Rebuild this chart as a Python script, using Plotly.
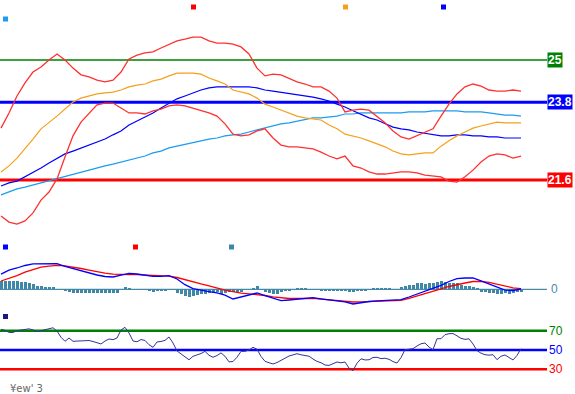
import plotly.graph_objects as go

# ---------------- data ----------------
# price panel lines, one value every 2 sessions
upper = [23.07, 23.50, 23.98, 24.35, 24.66, 24.80, 25.00, 25.17, 25.00, 24.77,
         24.58, 24.52, 24.43, 24.38, 24.43, 24.66, 25.03, 25.14, 25.20, 25.23,
         25.34, 25.45, 25.54, 25.59, 25.65, 25.65, 25.54, 25.48, 25.48, 25.45,
         25.37, 25.17, 24.77, 24.55, 24.60, 24.58, 24.49, 24.38, 24.32, 24.24,
         24.24, 24.12, 23.92, 23.53, 23.58, 23.61, 23.58, 23.41, 23.22, 22.99,
         22.82, 22.76, 22.85, 22.96, 23.05, 23.41, 23.75, 24.04, 24.24, 24.32,
         24.26, 24.15, 24.12, 24.12, 24.15, 24.12]
middle = [21.83, 22.00, 22.22, 22.48, 22.76, 23.05, 23.22, 23.41, 23.61, 23.81,
          23.92, 23.98, 24.04, 24.07, 24.09, 24.15, 24.24, 24.29, 24.32, 24.41,
          24.46, 24.55, 24.63, 24.63, 24.63, 24.60, 24.49, 24.41, 24.32, 24.15,
          24.09, 24.04, 23.92, 23.75, 23.67, 23.58, 23.50, 23.41, 23.36, 23.33,
          23.30, 23.16, 23.05, 22.90, 22.85, 22.79, 22.71, 22.62, 22.54, 22.42,
          22.34, 22.31, 22.34, 22.37, 22.37, 22.56, 22.71, 22.85, 22.96, 23.07,
          23.13, 23.19, 23.24, 23.22, 23.22, 23.22]
lower = [20.58, 20.41, 20.35, 20.44, 20.67, 21.03, 21.26, 21.63, 22.25, 22.85,
         23.24, 23.50, 23.73, 23.78, 23.78, 23.64, 23.50, 23.50, 23.47, 23.56,
         23.61, 23.70, 23.73, 23.70, 23.64, 23.58, 23.50, 23.41, 23.19, 22.90,
         22.85, 22.88, 22.99, 23.05, 22.79, 22.59, 22.54, 22.54, 22.51, 22.48,
         22.39, 22.28, 22.20, 22.28, 22.00, 21.94, 21.83, 21.77, 21.77, 21.80,
         21.83, 21.83, 21.80, 21.74, 21.71, 21.69, 21.57, 21.54, 21.69, 21.88,
         22.11, 22.28, 22.34, 22.31, 22.22, 22.28]
ma_mid = [21.43, 21.52, 21.57, 21.69, 21.83, 21.94, 22.08, 22.22, 22.34, 22.42,
          22.51, 22.59, 22.68, 22.76, 22.88, 22.99, 23.16, 23.27, 23.39, 23.50,
          23.64, 23.78, 23.90, 23.98, 24.07, 24.15, 24.21, 24.24, 24.24, 24.24,
          24.24, 24.24, 24.21, 24.15, 24.12, 24.09, 24.04, 24.01, 23.98, 23.95,
          23.90, 23.84, 23.75, 23.67, 23.56, 23.47, 23.36, 23.30, 23.19, 23.10,
          23.05, 23.02, 22.96, 22.93, 22.88, 22.85, 22.85, 22.88, 22.88, 22.85,
          22.85, 22.82, 22.82, 22.79, 22.79, 22.79]
ma_long = [21.18, 21.26, 21.35, 21.40, 21.46, 21.52, 21.60, 21.66, 21.71, 21.77,
           21.83, 21.88, 21.94, 22.00, 22.05, 22.11, 22.17, 22.22, 22.28, 22.37,
           22.42, 22.51, 22.56, 22.62, 22.65, 22.71, 22.76, 22.79, 22.85, 22.88,
           22.90, 22.96, 23.02, 23.07, 23.13, 23.19, 23.22, 23.27, 23.33, 23.36,
           23.36, 23.39, 23.41, 23.47, 23.47, 23.50, 23.50, 23.50, 23.50, 23.50,
           23.50, 23.53, 23.53, 23.53, 23.56, 23.56, 23.56, 23.56, 23.53, 23.53,
           23.53, 23.50, 23.47, 23.44, 23.44, 23.41]

# MACD panel, lines one value every 2 sessions, histogram every session
macd = [0.152, 0.191, 0.213, 0.238, 0.254, 0.256, 0.256, 0.256, 0.230, 0.208,
        0.187, 0.164, 0.143, 0.128, 0.123, 0.141, 0.160, 0.153, 0.139, 0.130,
        0.130, 0.137, 0.103, 0.046, 0.007, -0.012, -0.024, -0.036, -0.058, -0.097,
        -0.078, -0.060, -0.037, -0.063, -0.090, -0.113, -0.107, -0.098, -0.087, -0.084,
        -0.095, -0.106, -0.114, -0.125, -0.147, -0.131, -0.122, -0.116, -0.112, -0.109,
        -0.104, -0.077, -0.049, -0.022, 0.009, 0.040, 0.078, 0.106, 0.113, 0.113,
        0.084, 0.054, 0.017, -0.009, -0.012, 0.003]
signal = [0.083, 0.108, 0.137, 0.171, 0.199, 0.221, 0.231, 0.240, 0.234, 0.223,
          0.208, 0.192, 0.175, 0.161, 0.151, 0.146, 0.146, 0.146, 0.144, 0.141,
          0.137, 0.132, 0.118, 0.095, 0.073, 0.054, 0.035, 0.012, -0.008, -0.023,
          -0.038, -0.045, -0.051, -0.062, -0.075, -0.087, -0.092, -0.092, -0.089, -0.090,
          -0.098, -0.106, -0.114, -0.122, -0.127, -0.125, -0.122, -0.120, -0.118, -0.116,
          -0.111, -0.090, -0.068, -0.044, -0.020, 0.004, 0.028, 0.049, 0.063, 0.078,
          0.080, 0.069, 0.050, 0.032, 0.015, 0.006]
hist = [0.080, 0.085, 0.080, 0.080, 0.080, 0.077, 0.070, 0.063, 0.055, 0.035,
        0.030, 0.025, 0.022, 0.022, 0.003, -0.003, -0.012, -0.023, -0.033, -0.033,
        -0.033, -0.033, -0.040, -0.040, -0.040, -0.040, -0.033, -0.033, -0.033, -0.033,
        0.002, 0.023, 0.013, 0.002, -0.002, -0.003, -0.005, -0.013, -0.023, -0.013,
        -0.013, -0.013, -0.003, -0.005, -0.037, -0.050, -0.070, -0.080, -0.070, -0.055,
        -0.044, -0.044, -0.037, -0.037, -0.029, -0.044, -0.037, -0.029, -0.029, -0.029,
        -0.022, -0.003, 0.003, 0.015, 0.030, -0.003, -0.025, -0.033, -0.043, -0.043,
        -0.030, -0.020, -0.010, -0.003, 0.013, 0.013, 0.013, 0.003, -0.003, -0.003,
        -0.015, -0.015, -0.015, -0.010, -0.010, -0.010, -0.013, -0.023, -0.023, -0.015,
        -0.013, -0.008, 0.003, 0.013, 0.013, 0.013, 0.013, 0.013, 0.003, 0.003,
        0.022, 0.037, 0.048, 0.048, 0.059, 0.059, 0.055, 0.066, 0.066, 0.077,
        0.084, 0.077, 0.066, 0.066, 0.059, 0.048, 0.037, 0.029, 0.022, 0.015,
        -0.022, -0.026, -0.033, -0.037, -0.044, -0.044, -0.037, -0.044, -0.037, -0.030,
        -0.025]

# RSI, one value per session
rsi = [71.5, 70.6, 68.4, 68.3, 70.2, 71.0, 71.6, 72.1, 71.0, 69.2,
       70.2, 71.3, 72.1, 73.2, 69.8, 63.3, 59.1, 62.5, 59.1, 59.4,
       59.8, 60.2, 59.9, 58.9, 57.3, 56.3, 59.4, 61.5, 60.8, 62.5,
       70.9, 73.7, 67.8, 59.4, 58.6, 60.9, 60.0, 55.5, 52.8, 58.4,
       58.9, 60.1, 63.6, 57.3, 49.0, 46.2, 43.0, 39.8, 43.4, 44.8,
       46.3, 48.6, 44.5, 42.4, 44.2, 47.0, 43.4, 37.6, 38.0, 42.4,
       48.6, 48.6, 50.0, 52.8, 50.8, 43.3, 38.2, 36.7, 35.4, 36.9,
       38.8, 41.4, 43.7, 44.9, 46.1, 45.0, 44.2, 43.5, 40.6, 38.1,
       36.7, 34.3, 33.9, 35.8, 37.5, 36.6, 37.5, 31.1, 28.4, 36.2,
       40.8, 39.6, 39.8, 42.2, 42.4, 41.0, 41.4, 40.3, 37.9, 36.4,
       42.0, 50.3, 50.8, 51.4, 54.2, 56.5, 57.3, 53.1, 50.3, 61.8,
       61.8, 66.0, 67.0, 67.2, 64.8, 62.2, 61.1, 61.7, 56.3, 49.3,
       46.7, 45.1, 44.6, 45.1, 39.9, 43.5, 44.8, 42.6, 39.6, 44.3,
       51.4]

price_levels = [25, 23.8, 21.6]
price_level_labels = ["25", "23.8", "21.6"]
price_level_colors = ["#008000", "#0000ff", "#ff0000"]
rsi_levels = [70, 50, 30]
rsi_level_colors = ["#008000", "#0000ff", "#ff0000"]
footer_text = "¥ew' 3"

# ---------------- layout geometry ----------------
W, H = 575, 394
PW = 547          # plot area width in px
STEP = 4.0        # px per session


def dom(top_px, bot_px):
    return [1 - bot_px / H, 1 - top_px / H]


def px_price(p):
    return 25 - (p - 60) / 35.3


def px_macd(p):
    return (289.3 - p) * 0.01


def px_rsi(p):
    return 50 + (350 - p) / 0.9575


line_x = [2 * k for k in range(len(upper))]
bar_x = list(range(len(hist)))
rsi_x = list(range(len(rsi)))

fig = go.Figure()

# price panel
for vals, col, w in [(ma_long, "#1a9cf0", 1.2), (ma_mid, "#0000ff", 1.2),
                     (middle, "#f5a01a", 1.2), (upper, "#ff3030", 1.3),
                     (lower, "#ff3030", 1.3)]:
    fig.add_trace(go.Scatter(x=line_x, y=vals, mode="lines",
                             line=dict(color=col, width=w),
                             xaxis="x", yaxis="y"))

# MACD panel
fig.add_trace(go.Bar(x=bar_x, y=hist, marker=dict(color="#3f87a6", line=dict(width=0)),
                     width=0.75, xaxis="x", yaxis="y2"))
fig.add_trace(go.Scatter(x=line_x, y=signal, mode="lines",
                         line=dict(color="#ff0000", width=1.3), xaxis="x", yaxis="y2"))
fig.add_trace(go.Scatter(x=line_x, y=macd, mode="lines",
                         line=dict(color="#0000ff", width=1.3), xaxis="x", yaxis="y2"))

# RSI panel
fig.add_trace(go.Scatter(x=rsi_x, y=rsi, mode="lines",
                         line=dict(color="#333399", width=1), xaxis="x", yaxis="y3"))

shapes = []
annotations = []

for lv, col, lab in zip(price_levels, price_level_colors, price_level_labels):
    wdt = 1.5 if lv == 25 else 3
    shapes.append(dict(type="line", xref="paper", yref="y", x0=0, x1=1, y0=lv, y1=lv,
                       line=dict(color=col, width=wdt), layer="below"))
    annotations.append(dict(xref="paper", yref="y", x=1, y=lv, xanchor="left",
                            yanchor="middle", text="<b>%s</b>" % lab, showarrow=False,
                            bgcolor=col, borderpad=0,
                            font=dict(color="white", size=12, family="Arial")))

shapes.append(dict(type="line", xref="paper", yref="y2", x0=0, x1=1, y0=0, y1=0,
                   line=dict(color="#4a8aa8", width=1.2), layer="below"))
annotations.append(dict(xref="paper", yref="y2", x=1, y=0, xanchor="left", xshift=2,
                        yanchor="middle", text="0", showarrow=False,
                        font=dict(color="#4a8aa8", size=12, family="Arial")))

for lv, col in zip(rsi_levels, rsi_level_colors):
    shapes.append(dict(type="line", xref="paper", yref="y3", x0=0, x1=1, y0=lv, y1=lv,
                       line=dict(color=col, width=2.5), layer="below"))
    annotations.append(dict(xref="paper", yref="y3", x=1, y=lv, xanchor="left", xshift=0,
                            yanchor="middle", text=str(lv), showarrow=False,
                            font=dict(color=col, size=12, family="Arial")))

# legend squares (pixel positions converted to paper)
def square(x_px, y_px, col, s=5):
    return dict(type="rect", xref="paper", yref="paper",
                x0=x_px / PW, x1=(x_px + s) / PW,
                y0=1 - (y_px + s) / H, y1=1 - y_px / H,
                fillcolor=col, line=dict(width=0))

shapes += [square(191, 4.5, "#ff0000"), square(343, 4.5, "#f5a01a"),
           square(441, 4.5, "#0000ff"), square(3, 16.5, "#1a9cf0"),
           square(3, 244.5, "#0000ff"), square(133, 244.5, "#ff0000"),
           square(229, 244.5, "#3f87a6"), square(3, 314, "#1a1a80")]

annotations.append(dict(xref="paper", yref="paper", x=8 / PW, y=1 - 388 / H,
                        xanchor="left", yanchor="middle", text=footer_text,
                        showarrow=False, font=dict(color="#666666", size=10,
                                                   family="DejaVu Sans")))

axis_common = dict(showgrid=False, zeroline=False, showticklabels=False,
                   showline=False, ticks="", fixedrange=True)

fig.update_layout(
    width=W, height=H,
    margin=dict(l=0, r=W - PW, t=0, b=0),
    paper_bgcolor="white", plot_bgcolor="white",
    showlegend=False, bargap=0,
    xaxis=dict(range=[-0.25, -0.25 + PW / STEP], **axis_common),
    yaxis=dict(domain=dom(0, 235), range=[px_price(235), px_price(0)], **axis_common),
    yaxis2=dict(domain=dom(255, 308), range=[px_macd(308), px_macd(255)],
                anchor="x", **axis_common),
    yaxis3=dict(domain=dom(318, 376), range=[px_rsi(376), px_rsi(318)],
                anchor="x", **axis_common),
    shapes=shapes, annotations=annotations,
)

fig.write_html("out.html", config={"displayModeBar": False},
               post_script="document.body.style.margin='0';document.body.style.overflow='hidden';")
